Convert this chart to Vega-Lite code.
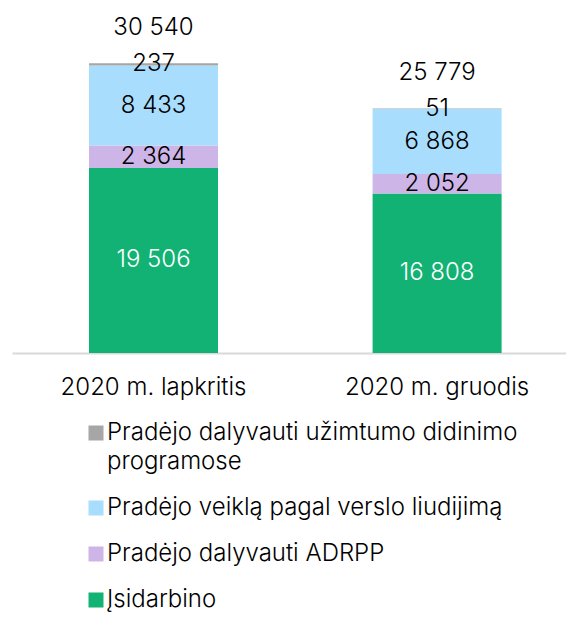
{
  "$schema": "https://vega.github.io/schema/vega-lite/v6.json",
  "autosize": "none",
  "width": 554,
  "height": 332,
  "padding": {"left": 12, "top": 21, "right": 0, "bottom": 266},
  "background": "white",
  "config": {
    "view": {"stroke": null},
    "font": "Inter",
    "style": {"guide-label": {"lineHeight": 29}},
    "locale": {"number": {"decimal": ",", "thousands": " ", "grouping": [3], "currency": ["", " €"]}}
  },
  "data": {"values": [
    {"m": "2020 m. lapkritis", "s": "Įsidarbino", "v": 19506, "o": 1},
    {"m": "2020 m. lapkritis", "s": "Pradėjo dalyvauti ADRPP", "v": 2364, "o": 2},
    {"m": "2020 m. lapkritis", "s": "Pradėjo veiklą pagal verslo liudijimą", "v": 8433, "o": 3},
    {"m": "2020 m. lapkritis", "s": "Pradėjo dalyvauti užimtumo didinimo programose", "v": 237, "o": 4},
    {"m": "2020 m. gruodis", "s": "Įsidarbino", "v": 16808, "o": 1},
    {"m": "2020 m. gruodis", "s": "Pradėjo dalyvauti ADRPP", "v": 2052, "o": 2},
    {"m": "2020 m. gruodis", "s": "Pradėjo veiklą pagal verslo liudijimą", "v": 6868, "o": 3},
    {"m": "2020 m. gruodis", "s": "Pradėjo dalyvauti užimtumo didinimo programose", "v": 51, "o": 4}
  ]},
  "encoding": {
    "x": {
      "field": "m", "type": "nominal", "sort": null,
      "scale": {"paddingInner": 0.5451, "paddingOuter": 0.2493, "align": 0.5446},
      "axis": {"title": null, "labelAngle": 0, "ticks": false, "domainColor": "#D9D9D9", "domainWidth": 2, "labelFontSize": 24, "labelFontWeight": 300, "labelColor": "#000000", "labelPadding": 22, "labelLimit": 400, "labelFont": "Inter"}
    }
  },
  "layer": [
    {
      "mark": {"type": "bar"},
      "encoding": {
        "y": {"field": "v", "type": "quantitative", "stack": "zero", "scale": {"domain": [0, 35000], "nice": false}, "axis": null},
        "order": {"field": "o", "type": "quantitative"},
        "color": {
          "field": "s", "type": "nominal",
          "scale": {
            "domain": ["Pradėjo dalyvauti užimtumo didinimo programose", "Pradėjo veiklą pagal verslo liudijimą", "Pradėjo dalyvauti ADRPP", "Įsidarbino"],
            "range": ["#A6A6A6", "#A8DDFD", "#CDB5E8", "#12B274"]
          },
          "legend": {
            "orient": "none", "legendX": 72, "legendY": 401, "padding": 0,
            "title": null, "symbolType": "square", "symbolSize": 225, "symbolStrokeWidth": 0,
            "labelFontSize": 24, "labelFontWeight": 300, "labelFont": "Inter", "labelColor": "#000000", "labelOffset": -1,
            "labelLimit": 600, "clipHeight": 22, "rowPadding": 22,
            "labelExpr": "datum.label == 'Pradėjo dalyvauti užimtumo didinimo programose' ? ['Pradėjo dalyvauti užimtumo didinimo', 'programose'] : datum.label"
          }
        }
      }
    },
    {
      "transform": [
        {"stack": "v", "groupby": ["m"], "sort": [{"field": "o", "order": "ascending"}], "as": ["v0", "v1"], "offset": "zero"},
        {"calculate": "(datum.v0 + datum.v1) / 2", "as": "mid"}
      ],
      "mark": {"type": "text", "fontSize": 24, "fontWeight": 300, "baseline": "middle", "font": "Inter"},
      "encoding": {
        "y": {"field": "mid", "type": "quantitative"},
        "text": {"field": "v", "type": "quantitative", "format": ",d"},
        "color": {"condition": {"test": "datum.s === 'Įsidarbino'", "value": "#FFFFFF"}, "value": "#000000"}
      }
    },
    {
      "transform": [{"aggregate": [{"op": "sum", "field": "v", "as": "t"}], "groupby": ["m"]}],
      "mark": {"type": "text", "fontSize": 24, "fontWeight": 300, "baseline": "middle", "dy": -35, "font": "Inter", "color": "#000000"},
      "encoding": {
        "y": {"field": "t", "type": "quantitative"},
        "text": {"field": "t", "type": "quantitative", "format": ",d"}
      }
    }
  ]
}
